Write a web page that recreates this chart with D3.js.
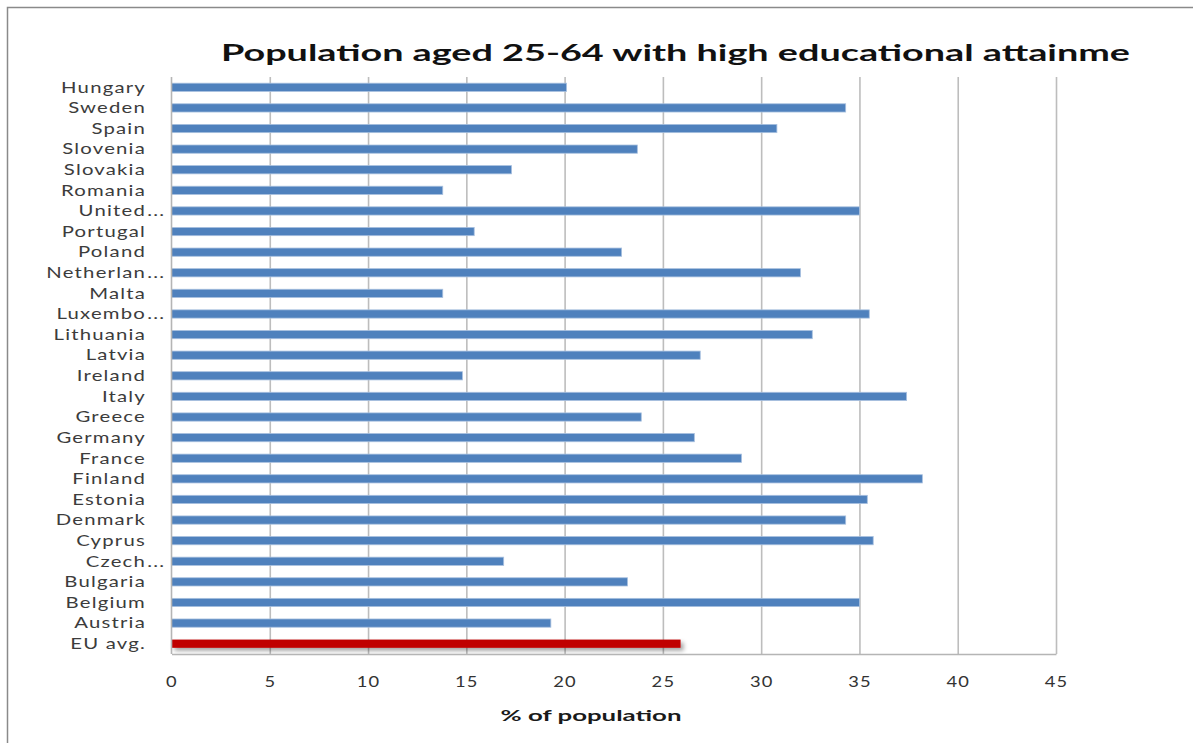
<!DOCTYPE html>
<html>
<head>
<meta charset="utf-8">
<script src="https://cdn.jsdelivr.net/npm/d3@7"></script>
<style>
  html, body { margin: 0; padding: 0; background: #ffffff; }
  svg { display: block; }
  text { font-family: Lato, "Open Sans", sans-serif; }
</style>
</head>
<body>
<svg id="chart" width="1193" height="743"></svg>
<script>
// Categories as shown on the vertical axis (top to bottom)
const categories = [
  "Hungary", "Sweden", "Spain", "Slovenia", "Slovakia", "Romania", "United...",
  "Portugal", "Poland", "Netherlan...", "Malta", "Luxembo...", "Lithuania",
  "Latvia", "Ireland", "Italy", "Greece", "Germany", "France", "Finland",
  "Estonia", "Denmark", "Cyprus", "Czech...", "Bulgaria", "Belgium",
  "Austria", "EU avg."
];

// Share of population aged 25-64 with high educational attainment (%)
const values = [
  20.1, 34.3, 30.8, 23.7, 17.3, 13.8, 35.0,
  15.4, 22.9, 32.0, 13.8, 35.5, 32.6,
  26.9, 14.8, 37.4, 23.9, 26.6, 29.0, 38.2,
  35.4, 34.3, 35.7, 16.9, 23.2, 35.0,
  19.3, 25.9
];

const highlight = "EU avg.";
const tickValues = [0, 5, 10, 15, 20, 25, 30, 35, 40, 45];
const titleText = "Population aged 25-64 with high educational attainme";
const xAxisTitle = "% of population";

const data = categories.map((c, i) => ({ name: c, value: values[i] }));

const svg = d3.select("#chart");

// Outer frame (top and left edges)
svg.append("path")
  .attr("d", "M7.5,743 V7.5 H1193")
  .attr("fill", "none")
  .attr("stroke", "#8a8a8a")
  .attr("stroke-width", 1.5);

const defs = svg.append("defs");
defs.append("filter")
  .attr("id", "shadow")
  .attr("x", "-5%").attr("y", "-60%")
  .attr("width", "115%").attr("height", "260%")
  .append("feDropShadow")
  .attr("dx", 3).attr("dy", 3)
  .attr("stdDeviation", 2)
  .attr("flood-color", "#000")
  .attr("flood-opacity", 0.35);

const plot = { left: 171.5, right: 1056, top: 77, bottom: 654 };

const x = d3.scaleLinear().domain([0, 45]).range([plot.left, plot.right]);
const y = d3.scaleBand()
  .domain(categories)
  .range([plot.top, plot.bottom])
  .paddingInner(0.6)
  .paddingOuter(0.3);

// Vertical gridlines
svg.append("g")
  .attr("class", "grid")
  .attr("transform", `translate(0,${plot.bottom})`)
  .call(d3.axisBottom(x)
    .tickValues(tickValues.filter(v => v > 0))
    .tickSize(-(plot.bottom - plot.top))
    .tickFormat(""))
  .call(g => g.select(".domain").remove())
  .call(g => g.selectAll(".tick line")
    .attr("stroke", "#bdbdbd")
    .attr("stroke-width", 1.6));

// Bars
svg.append("g")
  .selectAll("rect")
  .data(data)
  .join("rect")
  .attr("x", x(0))
  .attr("y", d => y(d.name))
  .attr("width", d => x(d.value) - x(0))
  .attr("height", y.bandwidth())
  .attr("fill", d => d.name === highlight ? "#c00000" : "#4f81bd")
  .attr("stroke", d => d.name === highlight ? "none" : "#a8c0df")
  .attr("stroke-width", 0.8)
  .attr("filter", d => d.name === highlight ? "url(#shadow)" : null);

// Axis lines (left and bottom)
svg.append("line")
  .attr("x1", plot.left).attr("x2", plot.left)
  .attr("y1", plot.top).attr("y2", plot.bottom)
  .attr("stroke", "#b5b5b5").attr("stroke-width", 1.6);

const xAxis = svg.append("g")
  .attr("transform", `translate(0,${plot.bottom})`)
  .call(d3.axisBottom(x).tickValues(tickValues).tickSize(0).tickPadding(0));
xAxis.select(".domain")
  .attr("stroke", "#b5b5b5")
  .attr("stroke-width", 1.6);
xAxis.selectAll(".tick text")
  .attr("dy", null)
  .attr("y", 33)
  .attr("fill", "#333333")
  .style("font-size", "15.5px")
  .style("letter-spacing", "1px")
  .style("font-family", "Lato, 'Open Sans', sans-serif");

// Horizontal stretch of the tick numbers
{
  const t = xAxis.selectAll(".tick text").filter(d => d === 10).node();
  const sx = 23.6 / t.getComputedTextLength();
  xAxis.selectAll(".tick text").attr("transform", `scale(${sx},1)`);
}

// Category labels, right-aligned against the plot
const labelRight = 146;
const labels = svg.append("g")
  .selectAll("g")
  .data(data)
  .join("g")
  .attr("class", "label");

labels.append("text")
  .attr("text-anchor", "end")
  .attr("fill", "#3c3c3c")
  .style("font-size", "15px")
  .style("letter-spacing", "0.9px")
  .text(d => d.name.replace("...", ""));

labels.filter(d => d.name.endsWith("..."))
  .append("text")
  .attr("x", 1)
  .attr("text-anchor", "start")
  .attr("fill", "#3c3c3c")
  .style("font-size", "15px")
  .style("letter-spacing", "0.9px")
  .text("...");

{
  const ref = labels.filter(d => d.name === "Hungary").select("text").node();
  const sx = 85 / ref.getComputedTextLength();
  labels.attr("transform", d =>
    `translate(${labelRight},${y(d.name) + y.bandwidth() / 2 + 5.3}) scale(${sx},1)`);
}

// Chart title
svg.append("text")
  .attr("x", 221)
  .attr("y", 61)
  .attr("textLength", 909)
  .attr("lengthAdjust", "spacingAndGlyphs")
  .attr("fill", "#111")
  .style("font-size", "23px")
  .style("font-weight", "700")
  .text(titleText);

// Horizontal axis title
{
  const t = svg.append("text")
    .attr("x", 0)
    .attr("y", 0)
    .attr("text-anchor", "middle")
    .attr("fill", "#1a1a1a")
    .style("font-size", "15px")
    .style("font-weight", "700")
    .text(xAxisTitle);
  const sx = 181 / t.node().getComputedTextLength();
  t.attr("transform", `translate(591,721) scale(${sx},1)`);
}
</script>
</body>
</html>
